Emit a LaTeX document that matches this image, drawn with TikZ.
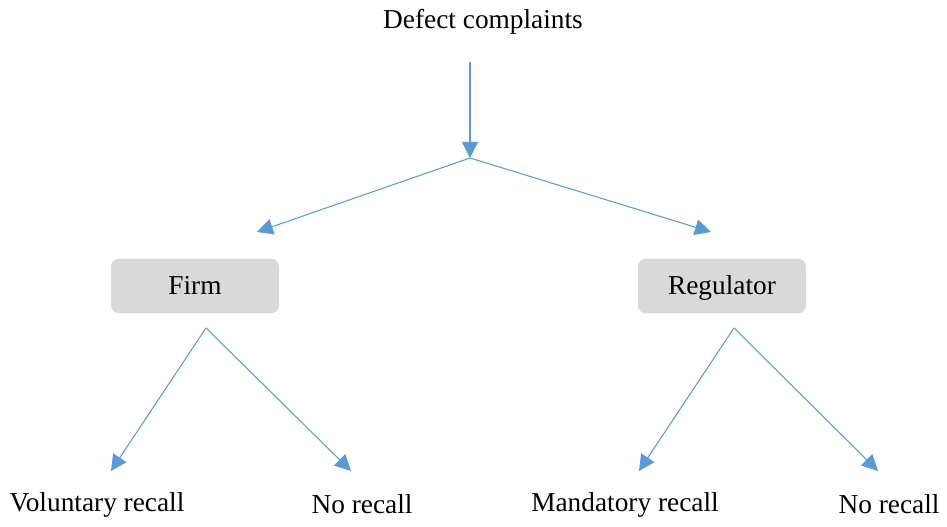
\documentclass[tikz,border=0pt]{standalone}
\usepackage{fontspec}
\setmainfont{Liberation Serif}
\usetikzlibrary{arrows.meta}
\definecolor{lineblue}{RGB}{91,155,213}
\definecolor{boxgray}{RGB}{217,217,217}
\tikzset{>={Triangle[length=12pt,width=12pt]}}
\tikzset{agent/.style={fill=boxgray,rounded corners=6pt,minimum width=126pt,minimum height=41pt,text height=15.5pt,text depth=2.5pt,font=\fontsize{20.5}{24}\selectfont}}
\tikzset{lbl/.style={font=\fontsize{20.5}{24}\selectfont,inner sep=0pt,text height=15.5pt,text depth=2.5pt}}
\tikzset{link/.style={lineblue,line width=0.8pt}}

\begin{document}
\begin{tikzpicture}[x=0.75pt,y=-0.75pt]
\useasboundingbox (0,0) rectangle (947,527);

% Top
\node[lbl] (defect) at (483,20) {Defect complaints};
\coordinate (top) at (470,62);
\coordinate (split) at (470,158);
\draw[link,->] (top)--(split);

% Agents
\node[agent] (firm) at (195,286) {Firm};
\node[agent] (reg) at (722,286) {Regulator};
\coordinate (firmin) at (257,232);
\coordinate (regin) at (711,232);
\draw[link,->] (split)--(firmin);
\draw[link,->] (split)--(regin);

% Outcomes
\node[lbl] (vol) at (97,503) {Voluntary recall};
\node[lbl] (nofirm) at (362,505) {No recall};
\node[lbl] (mand) at (625,503) {Mandatory recall};
\node[lbl] (noreg) at (889,505) {No recall};

\coordinate (firmout) at (206,328);
\coordinate (regout) at (734,328);
\coordinate (volin) at (111,471);
\coordinate (nofirmin) at (351,471);
\coordinate (mandin) at (639,471);
\coordinate (noregin) at (878,471);
\draw[link,->] (firmout)--(volin);
\draw[link,->] (firmout)--(nofirmin);
\draw[link,->] (regout)--(mandin);
\draw[link,->] (regout)--(noregin);

\end{tikzpicture}
\end{document}
